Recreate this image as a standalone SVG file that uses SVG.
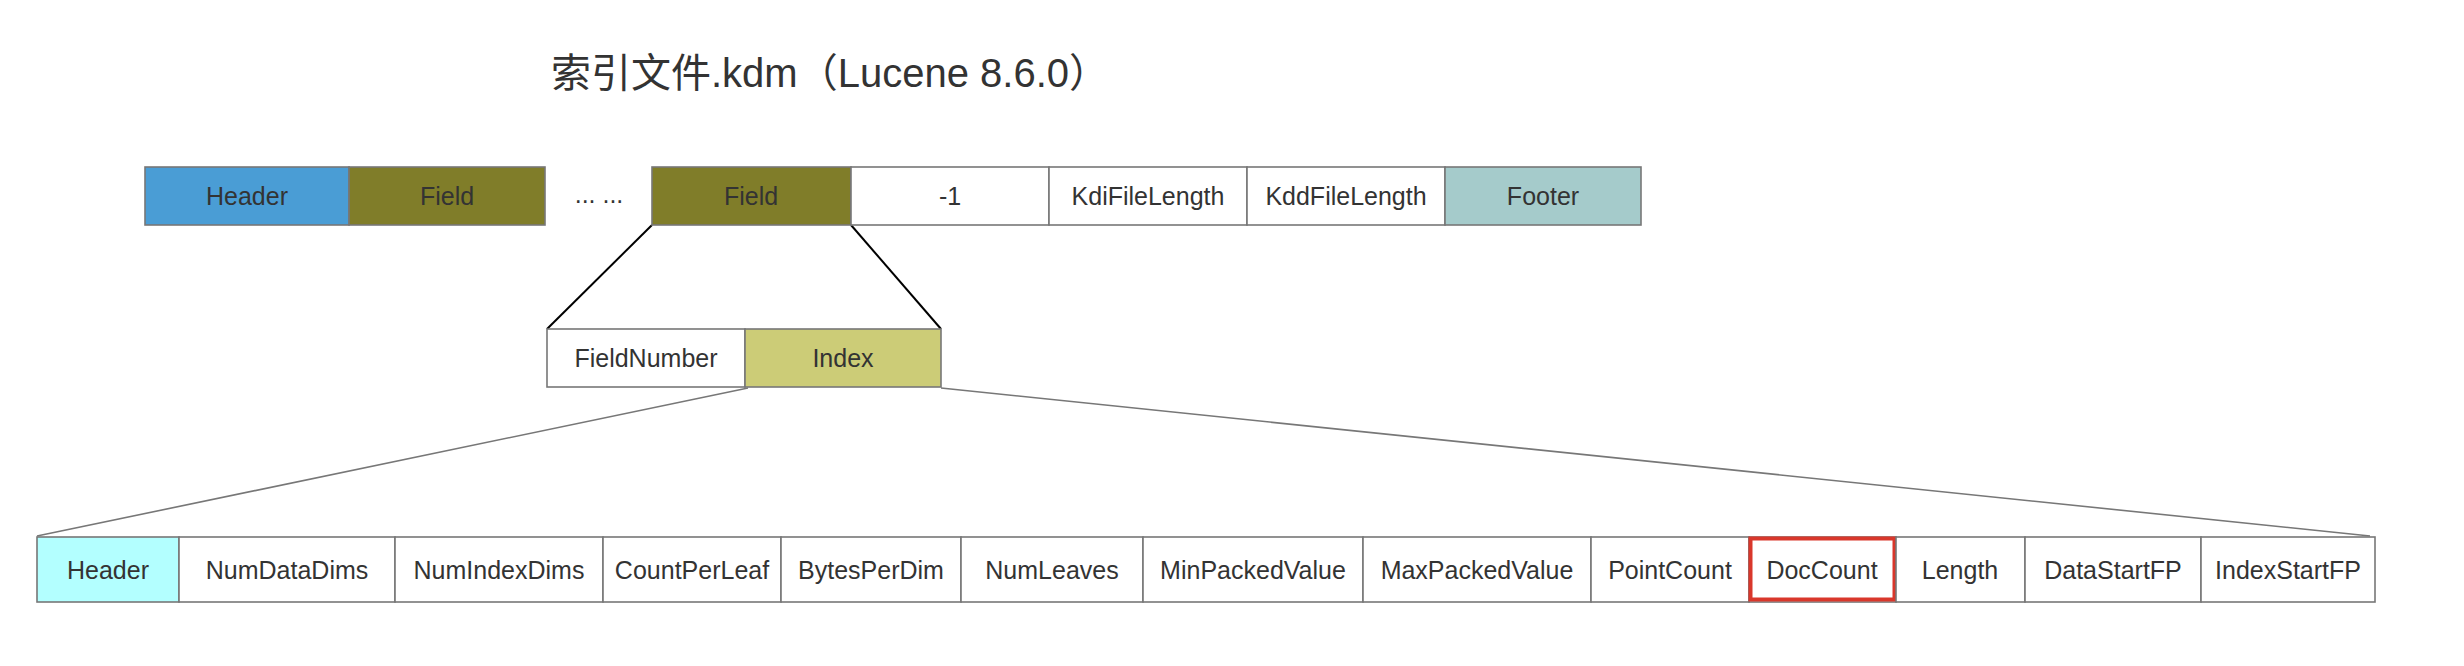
<svg xmlns="http://www.w3.org/2000/svg" width="2464" height="666" viewBox="0 0 2464 666">
<style>
.c{stroke:#777777;stroke-width:1.6}
.t{font-family:"Liberation Sans",Arial,sans-serif;font-size:25px;fill:#333333;text-anchor:middle;dominant-baseline:central}
.title{font-family:"Liberation Sans","Noto Sans CJK SC",sans-serif;font-size:40px;fill:#333333}
.w{fill:#ffffff}
</style>
<rect width="2464" height="666" fill="#ffffff"/>
<text class="title" x="551" y="87">索引文件.kdm（Lucene 8.6.0）</text>
<g id="connectors" fill="none">
<line x1="652" y1="225" x2="547" y2="329" stroke="#000000" stroke-width="2"/>
<line x1="851" y1="225" x2="941" y2="329" stroke="#000000" stroke-width="2"/>
<line x1="748" y1="388" x2="37" y2="536" stroke="#777777" stroke-width="1.6"/>
<line x1="941" y1="388" x2="2370" y2="536" stroke="#777777" stroke-width="1.6"/>
</g>
<g id="top-row">
<g id="n-header"><rect class="c" x="145" y="167" width="204" height="58" fill="#4A9DD5"/><text class="t" x="247" y="196">Header</text></g>
<g id="n-field1"><rect class="c" x="349" y="167" width="196" height="58" fill="#807D29"/><text class="t" x="447" y="196">Field</text></g>
<g id="n-ellipsis"><text class="t" x="599" y="194">... ...</text></g>
<g id="n-field2"><rect class="c" x="652" y="167" width="199" height="58" fill="#807D29"/><text class="t" x="751" y="196">Field</text></g>
<g id="n-minus1"><rect class="c w" x="851" y="167" width="198" height="58"/><text class="t" x="950" y="196">-1</text></g>
<g id="n-kdi"><rect class="c w" x="1049" y="167" width="198" height="58"/><text class="t" x="1148" y="196">KdiFileLength</text></g>
<g id="n-kdd"><rect class="c w" x="1247" y="167" width="198" height="58"/><text class="t" x="1346" y="196">KddFileLength</text></g>
<g id="n-footer"><rect class="c" x="1445" y="167" width="196" height="58" fill="#A5CBCB"/><text class="t" x="1543" y="196">Footer</text></g>
</g>
<g id="mid-row">
<g id="n-fieldnumber"><rect class="c w" x="547" y="329" width="198" height="58"/><text class="t" x="646" y="358">FieldNumber</text></g>
<g id="n-index"><rect class="c" x="745" y="329" width="196" height="58" fill="#CCCC77"/><text class="t" x="843" y="358">Index</text></g>
</g>
<g id="bottom-row">
<g id="b-header"><rect class="c" x="37" y="537" width="142" height="65" fill="#B3FFFF"/><text class="t" x="108" y="569.5">Header</text></g>
<g id="b-numdatadims"><rect class="c w" x="179" y="537" width="216" height="65"/><text class="t" x="287" y="569.5">NumDataDims</text></g>
<g id="b-numindexdims"><rect class="c w" x="395" y="537" width="208" height="65"/><text class="t" x="499" y="569.5">NumIndexDims</text></g>
<g id="b-countperleaf"><rect class="c w" x="603" y="537" width="178" height="65"/><text class="t" x="692" y="569.5">CountPerLeaf</text></g>
<g id="b-bytesperdim"><rect class="c w" x="781" y="537" width="180" height="65"/><text class="t" x="871" y="569.5">BytesPerDim</text></g>
<g id="b-numleaves"><rect class="c w" x="961" y="537" width="182" height="65"/><text class="t" x="1052" y="569.5">NumLeaves</text></g>
<g id="b-minpacked"><rect class="c w" x="1143" y="537" width="220" height="65"/><text class="t" x="1253" y="569.5">MinPackedValue</text></g>
<g id="b-maxpacked"><rect class="c w" x="1363" y="537" width="228" height="65"/><text class="t" x="1477" y="569.5">MaxPackedValue</text></g>
<g id="b-pointcount"><rect class="c w" x="1591" y="537" width="158" height="65"/><text class="t" x="1670" y="569.5">PointCount</text></g>
<g id="b-doccount"><rect class="c w" x="1749" y="537" width="147" height="65"/><rect x="1750.5" y="538.5" width="144" height="61" fill="none" stroke="#D9372B" stroke-width="4"/><text class="t" x="1822" y="569.5">DocCount</text></g>
<g id="b-length"><rect class="c w" x="1896" y="537" width="129" height="65"/><text class="t" x="1960" y="569.5">Length</text></g>
<g id="b-datastartfp"><rect class="c w" x="2025" y="537" width="176" height="65"/><text class="t" x="2113" y="569.5">DataStartFP</text></g>
<g id="b-indexstartfp"><rect class="c w" x="2201" y="537" width="174" height="65"/><text class="t" x="2288" y="569.5">IndexStartFP</text></g>
</g>
</svg>
